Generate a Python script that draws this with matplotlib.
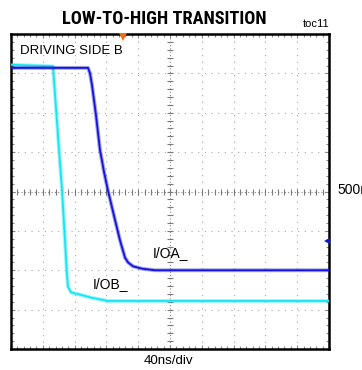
import numpy as np
import matplotlib
matplotlib.use("Agg")
import matplotlib.pyplot as plt
from matplotlib.ticker import MultipleLocator

# Time base: 40 ns/div over 10 divisions; vertical: 500 mV/div over 8 divisions
time_per_div_ns = 40
volt_per_div = 0.5
n_xdiv, n_ydiv = 10, 8

# I/OB_ (driven side) trace: time in ns, level in V
iob_t = [0, 52.8, 60.4, 64.2, 67.9, 70.4, 71.7, 75.5, 86.8, 101.9, 122.0, 400]
iob_v = [3.61, 3.59, 2.53, 2.01, 1.38, 0.94, 0.79, 0.72, 0.69, 0.65, 0.61, 0.61]

# I/OA_ trace: time in ns, level in V
ioa_t = [0, 96.9, 99.4, 101.9, 106.9, 111.9, 117.0, 122.0, 130.8, 137.1,
         143.4, 147.2, 153.5, 164.8, 181.1, 400]
ioa_v = [3.57, 3.57, 3.50, 3.35, 2.97, 2.53, 2.25, 2.01, 1.64, 1.38,
         1.16, 1.10, 1.05, 1.02, 1.00, 1.00]

trigger_ns = 140.5
ch_marker_v = 1.37

W, H = 362, 370
fig = plt.figure(figsize=(W / 100, H / 100), dpi=100)
fig.patch.set_facecolor("white")

L, R, T, B = 11, 329, 34, 349
ax = fig.add_axes([L / W, 1 - B / H, (R - L) / W, (B - T) / H])
xmax = n_xdiv * time_per_div_ns
ymax = n_ydiv * volt_per_div
ax.set_xlim(0, xmax)
ax.set_ylim(0, ymax)

# graticule
grid_kw = dict(color="#a8a8a8", lw=0.8, ls=(0, (1, 5)), zorder=1)
for k in range(1, n_xdiv):
    if k != n_xdiv // 2:
        ax.axvline(k * time_per_div_ns, **grid_kw)
for k in range(1, n_ydiv):
    if k != n_ydiv // 2:
        ax.axhline(k * volt_per_div, **grid_kw)

# centre crosshair with minor division ticks
xc, yc = xmax / 2, ymax / 2
ax.axhline(yc, color="#8a8a8a", lw=0.8, ls=(0, (1, 2)), zorder=1)
ax.axvline(xc, color="#8a8a8a", lw=0.8, ls=(0, (1, 2)), zorder=1)
xm = np.arange(0, xmax + 1e-6, time_per_div_ns / 5)
ym = np.arange(0, ymax + 1e-6, volt_per_div / 5)
ax.plot(xm, np.full_like(xm, yc), ls="none", marker="|", ms=5,
        mew=0.8, color="#7a7a7a", zorder=1)
ax.plot(np.full_like(ym, xc), ym, ls="none", marker="_", ms=5,
        mew=0.8, color="#7a7a7a", zorder=1)

# frame ticks
ax.xaxis.set_major_locator(MultipleLocator(time_per_div_ns))
ax.yaxis.set_major_locator(MultipleLocator(volt_per_div))
ax.xaxis.set_minor_locator(MultipleLocator(time_per_div_ns / 5))
ax.yaxis.set_minor_locator(MultipleLocator(volt_per_div / 5))
ax.tick_params(which="both", direction="in", top=True, right=True,
               labelbottom=False, labelleft=False, color="#888888")
ax.tick_params(which="major", length=3, width=0.8)
ax.tick_params(which="minor", length=2.5, width=0.8)
for s in ax.spines.values():
    s.set_linewidth(1.8)
    s.set_color("black")

# traces
blue = "#1414d8"
cyan = "#14e6f2"
ax.plot(iob_t, iob_v, color=cyan, lw=2.8, alpha=0.4, zorder=3,
        solid_joinstyle="round")
ax.plot(iob_t, iob_v, color=cyan, lw=1.3, zorder=4)
ax.plot(ioa_t, ioa_v, color=blue, lw=2.8, alpha=0.4, zorder=5,
        solid_joinstyle="round")
ax.plot(ioa_t, ioa_v, color=blue, lw=1.3, zorder=6)

# trigger and channel markers
ax.plot([trigger_ns], [ymax - 0.04], marker="v", ms=5.5, color="#f07010",
        clip_on=False, zorder=7, markeredgewidth=0)
ax.plot([xmax - 3], [ch_marker_v], marker="<", ms=5, color=blue,
        clip_on=False, zorder=7, markeredgewidth=0)
ax.plot([xmax - 4, xmax], [ch_marker_v, ch_marker_v], color=blue, lw=1,
        zorder=7)


def ftext(x, y, s, **kw):
    return fig.text(x / W, 1 - y / H, s, **kw)


title = ftext(164.5, 19.5, "LOW-TO-HIGH TRANSITION", ha="center", va="center",
              fontsize=13.5, fontweight=900, fontstretch="condensed",
              family=["Roboto Condensed", "Liberation Sans Narrow", "Roboto"])
# fit the title to its width span
renderer = fig.canvas.get_renderer()
target_w = 205
for _ in range(3):
    w = title.get_window_extent(renderer).width
    title.set_fontsize(title.get_fontsize() * target_w / w)

ftext(329, 24, "toc11", ha="right", va="center", fontsize=8,
      family="Liberation Sans")
ftext(20, 51, "DRIVING SIDE B", ha="left", va="center", fontsize=9.5,
      family="Liberation Sans")
ftext(153, 253, "I/OA_", ha="left", va="center", fontsize=10,
      family="Liberation Sans")
ftext(93, 284, "I/OB_", ha="left", va="center", fontsize=10,
      family="Liberation Sans")
ftext(169, 361, "40ns/div", ha="center", va="center", fontsize=9.6,
      family="Liberation Sans")
ftext(337, 190, "500mV/div", ha="left", va="center", fontsize=10,
      family="Liberation Sans")

fig.savefig("out.png", dpi=100, facecolor="white")
